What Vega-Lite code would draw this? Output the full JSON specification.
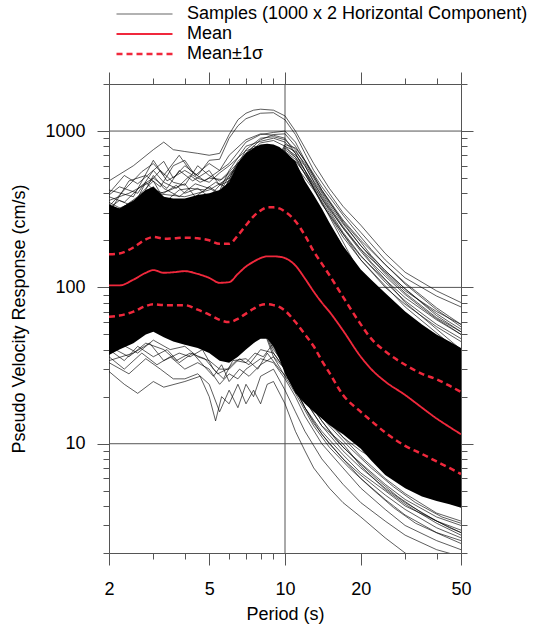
{
  "$schema": "https://vega.github.io/schema/vega-lite/v6.json",
  "width": 352,
  "height": 469,
  "autosize": "none",
  "padding": {"left": 109, "top": 84, "right": 83, "bottom": 76},
  "config": {
    "font": "Liberation Sans",
    "view": {"stroke": null},
    "axis": {"labelFont": "Liberation Sans", "titleFont": "Liberation Sans", "labelFontSize": 18, "titleFontSize": 18, "titleFontWeight": "normal", "labelColor": "#000", "titleColor": "#000", "domainColor": "#555", "tickColor": "#555", "grid": false, "labelFlush": false, "labelOverlap": false, "labelBound": false},
    "legend": {"orient": "none", "legendX": 6, "legendY": -80, "symbolType": "stroke", "symbolSize": 3136, "clipHeight": 20, "labelFontSize": 18, "labelFont": "Liberation Sans", "labelColor": "#000", "labelOffset": 13, "rowPadding": 0, "padding": 0, "title": null, "labelLimit": 500}
  },
  "datasets": {
    "gridy": [{"g": 10}, {"g": 100}, {"g": 1000}],
    "gridx": [{"g": 10}],
    "band": [
      {"p": 2, "lo": 37, "hi": 340}, {"p": 2.2, "lo": 40, "hi": 320}, {"p": 2.5, "lo": 44, "hi": 360}, {"p": 2.8, "lo": 50, "hi": 420}, {"p": 3, "lo": 52, "hi": 440}, {"p": 3.3, "lo": 48, "hi": 380}, {"p": 3.6, "lo": 45, "hi": 370}, {"p": 4, "lo": 43, "hi": 370}, {"p": 4.5, "lo": 41, "hi": 390}, {"p": 5, "lo": 38, "hi": 400}, {"p": 5.5, "lo": 34, "hi": 420}, {"p": 6, "lo": 33, "hi": 470}, {"p": 6.5, "lo": 36, "hi": 620}, {"p": 7, "lo": 40, "hi": 720}, {"p": 7.5, "lo": 44, "hi": 780}, {"p": 8, "lo": 47, "hi": 820}, {"p": 8.5, "lo": 47, "hi": 830}, {"p": 9, "lo": 42, "hi": 820}, {"p": 9.5, "lo": 35, "hi": 790}, {"p": 10, "lo": 28, "hi": 740}, {"p": 11, "lo": 21, "hi": 640}, {"p": 12, "lo": 18, "hi": 480}, {"p": 13, "lo": 16, "hi": 390}, {"p": 14, "lo": 14.5, "hi": 320}, {"p": 15, "lo": 13.2, "hi": 260}, {"p": 17, "lo": 11.5, "hi": 185}, {"p": 20, "lo": 9.3, "hi": 130}, {"p": 22, "lo": 7.8, "hi": 112}, {"p": 25, "lo": 6.3, "hi": 92}, {"p": 30, "lo": 5.2, "hi": 70}, {"p": 35, "lo": 4.6, "hi": 58}, {"p": 40, "lo": 4.3, "hi": 50}, {"p": 45, "lo": 4.1, "hi": 45}, {"p": 50, "lo": 3.9, "hi": 41}
    ],
    "lines": [
      {"k": "Mean", "s": "m", "p": 2, "v": 103}, {"k": "Mean", "s": "m", "p": 2.2, "v": 103}, {"k": "Mean", "s": "m", "p": 2.5, "v": 112}, {"k": "Mean", "s": "m", "p": 2.8, "v": 124}, {"k": "Mean", "s": "m", "p": 3, "v": 129}, {"k": "Mean", "s": "m", "p": 3.3, "v": 124}, {"k": "Mean", "s": "m", "p": 3.6, "v": 125}, {"k": "Mean", "s": "m", "p": 4, "v": 127}, {"k": "Mean", "s": "m", "p": 4.5, "v": 122}, {"k": "Mean", "s": "m", "p": 5, "v": 115}, {"k": "Mean", "s": "m", "p": 5.5, "v": 107}, {"k": "Mean", "s": "m", "p": 6, "v": 108}, {"k": "Mean", "s": "m", "p": 6.5, "v": 122}, {"k": "Mean", "s": "m", "p": 7, "v": 136}, {"k": "Mean", "s": "m", "p": 7.5, "v": 146}, {"k": "Mean", "s": "m", "p": 8, "v": 154}, {"k": "Mean", "s": "m", "p": 8.5, "v": 158}, {"k": "Mean", "s": "m", "p": 9, "v": 158}, {"k": "Mean", "s": "m", "p": 9.5, "v": 157}, {"k": "Mean", "s": "m", "p": 10, "v": 154}, {"k": "Mean", "s": "m", "p": 11, "v": 138}, {"k": "Mean", "s": "m", "p": 12, "v": 114}, {"k": "Mean", "s": "m", "p": 13, "v": 94}, {"k": "Mean", "s": "m", "p": 14, "v": 80}, {"k": "Mean", "s": "m", "p": 15, "v": 70}, {"k": "Mean", "s": "m", "p": 17, "v": 53}, {"k": "Mean", "s": "m", "p": 20, "v": 36}, {"k": "Mean", "s": "m", "p": 22, "v": 30}, {"k": "Mean", "s": "m", "p": 25, "v": 25}, {"k": "Mean", "s": "m", "p": 30, "v": 20.5}, {"k": "Mean", "s": "m", "p": 35, "v": 17}, {"k": "Mean", "s": "m", "p": 40, "v": 14.5}, {"k": "Mean", "s": "m", "p": 45, "v": 12.8}, {"k": "Mean", "s": "m", "p": 50, "v": 11.5},
      {"k": "Mean±1σ", "s": "u", "p": 2, "v": 163}, {"k": "Mean±1σ", "s": "u", "p": 2.2, "v": 165}, {"k": "Mean±1σ", "s": "u", "p": 2.5, "v": 180}, {"k": "Mean±1σ", "s": "u", "p": 2.8, "v": 203}, {"k": "Mean±1σ", "s": "u", "p": 3, "v": 210}, {"k": "Mean±1σ", "s": "u", "p": 3.3, "v": 205}, {"k": "Mean±1σ", "s": "u", "p": 3.6, "v": 206}, {"k": "Mean±1σ", "s": "u", "p": 4, "v": 208}, {"k": "Mean±1σ", "s": "u", "p": 4.5, "v": 206}, {"k": "Mean±1σ", "s": "u", "p": 5, "v": 200}, {"k": "Mean±1σ", "s": "u", "p": 5.5, "v": 190}, {"k": "Mean±1σ", "s": "u", "p": 6, "v": 190}, {"k": "Mean±1σ", "s": "u", "p": 6.5, "v": 215}, {"k": "Mean±1σ", "s": "u", "p": 7, "v": 250}, {"k": "Mean±1σ", "s": "u", "p": 7.5, "v": 285}, {"k": "Mean±1σ", "s": "u", "p": 8, "v": 310}, {"k": "Mean±1σ", "s": "u", "p": 8.5, "v": 325}, {"k": "Mean±1σ", "s": "u", "p": 9, "v": 325}, {"k": "Mean±1σ", "s": "u", "p": 9.5, "v": 320}, {"k": "Mean±1σ", "s": "u", "p": 10, "v": 305}, {"k": "Mean±1σ", "s": "u", "p": 11, "v": 265}, {"k": "Mean±1σ", "s": "u", "p": 12, "v": 215}, {"k": "Mean±1σ", "s": "u", "p": 13, "v": 170}, {"k": "Mean±1σ", "s": "u", "p": 14, "v": 142}, {"k": "Mean±1σ", "s": "u", "p": 15, "v": 120}, {"k": "Mean±1σ", "s": "u", "p": 17, "v": 87}, {"k": "Mean±1σ", "s": "u", "p": 20, "v": 58}, {"k": "Mean±1σ", "s": "u", "p": 22, "v": 47}, {"k": "Mean±1σ", "s": "u", "p": 25, "v": 39}, {"k": "Mean±1σ", "s": "u", "p": 30, "v": 32}, {"k": "Mean±1σ", "s": "u", "p": 35, "v": 28}, {"k": "Mean±1σ", "s": "u", "p": 40, "v": 25.8}, {"k": "Mean±1σ", "s": "u", "p": 45, "v": 23.5}, {"k": "Mean±1σ", "s": "u", "p": 50, "v": 21.4},
      {"k": "Mean±1σ", "s": "l", "p": 2, "v": 65}, {"k": "Mean±1σ", "s": "l", "p": 2.2, "v": 66}, {"k": "Mean±1σ", "s": "l", "p": 2.5, "v": 70}, {"k": "Mean±1σ", "s": "l", "p": 2.8, "v": 76}, {"k": "Mean±1σ", "s": "l", "p": 3, "v": 78}, {"k": "Mean±1σ", "s": "l", "p": 3.3, "v": 77}, {"k": "Mean±1σ", "s": "l", "p": 3.6, "v": 77}, {"k": "Mean±1σ", "s": "l", "p": 4, "v": 77}, {"k": "Mean±1σ", "s": "l", "p": 4.5, "v": 72}, {"k": "Mean±1σ", "s": "l", "p": 5, "v": 67}, {"k": "Mean±1σ", "s": "l", "p": 5.5, "v": 62}, {"k": "Mean±1σ", "s": "l", "p": 6, "v": 60}, {"k": "Mean±1σ", "s": "l", "p": 6.5, "v": 63}, {"k": "Mean±1σ", "s": "l", "p": 7, "v": 68}, {"k": "Mean±1σ", "s": "l", "p": 7.5, "v": 73}, {"k": "Mean±1σ", "s": "l", "p": 8, "v": 77}, {"k": "Mean±1σ", "s": "l", "p": 8.5, "v": 78}, {"k": "Mean±1σ", "s": "l", "p": 9, "v": 77}, {"k": "Mean±1σ", "s": "l", "p": 9.5, "v": 75}, {"k": "Mean±1σ", "s": "l", "p": 10, "v": 71}, {"k": "Mean±1σ", "s": "l", "p": 11, "v": 60}, {"k": "Mean±1σ", "s": "l", "p": 12, "v": 50}, {"k": "Mean±1σ", "s": "l", "p": 13, "v": 42}, {"k": "Mean±1σ", "s": "l", "p": 14, "v": 34}, {"k": "Mean±1σ", "s": "l", "p": 15, "v": 28.5}, {"k": "Mean±1σ", "s": "l", "p": 17, "v": 20.5}, {"k": "Mean±1σ", "s": "l", "p": 20, "v": 16}, {"k": "Mean±1σ", "s": "l", "p": 22, "v": 14}, {"k": "Mean±1σ", "s": "l", "p": 25, "v": 11.8}, {"k": "Mean±1σ", "s": "l", "p": 30, "v": 9.7}, {"k": "Mean±1σ", "s": "l", "p": 35, "v": 8.6}, {"k": "Mean±1σ", "s": "l", "p": 40, "v": 7.7}, {"k": "Mean±1σ", "s": "l", "p": 45, "v": 7.0}, {"k": "Mean±1σ", "s": "l", "p": 50, "v": 6.4}
    ],
    "samples": [
      {"s": "T1", "p": 2, "v": 480}, {"s": "T1", "p": 2.5, "v": 600}, {"s": "T1", "p": 3, "v": 760}, {"s": "T1", "p": 3.3, "v": 850}, {"s": "T1", "p": 3.6, "v": 760}, {"s": "T1", "p": 4, "v": 740}, {"s": "T1", "p": 4.5, "v": 720}, {"s": "T1", "p": 5, "v": 700}, {"s": "T1", "p": 5.5, "v": 720}, {"s": "T1", "p": 6, "v": 950}, {"s": "T1", "p": 6.5, "v": 1180}, {"s": "T1", "p": 7, "v": 1300}, {"s": "T1", "p": 7.5, "v": 1360}, {"s": "T1", "p": 8, "v": 1380}, {"s": "T1", "p": 9, "v": 1360}, {"s": "T1", "p": 10, "v": 1250}, {"s": "T1", "p": 11, "v": 1000}, {"s": "T1", "p": 12, "v": 780}, {"s": "T1", "p": 13, "v": 620}, {"s": "T1", "p": 15, "v": 430}, {"s": "T1", "p": 17, "v": 330}, {"s": "T1", "p": 20, "v": 250}, {"s": "T1", "p": 25, "v": 165}, {"s": "T1", "p": 30, "v": 125}, {"s": "T1", "p": 40, "v": 95}, {"s": "T1", "p": 50, "v": 80},
      {"s": "T2", "p": 2, "v": 400}, {"s": "T2", "p": 2.3, "v": 520}, {"s": "T2", "p": 2.6, "v": 460}, {"s": "T2", "p": 3, "v": 560}, {"s": "T2", "p": 3.3, "v": 640}, {"s": "T2", "p": 3.6, "v": 500}, {"s": "T2", "p": 4, "v": 600}, {"s": "T2", "p": 4.5, "v": 520}, {"s": "T2", "p": 5, "v": 650}, {"s": "T2", "p": 5.5, "v": 660}, {"s": "T2", "p": 6, "v": 900}, {"s": "T2", "p": 6.5, "v": 1080}, {"s": "T2", "p": 7, "v": 1200}, {"s": "T2", "p": 8, "v": 1300}, {"s": "T2", "p": 9, "v": 1310}, {"s": "T2", "p": 10, "v": 1180}, {"s": "T2", "p": 11, "v": 950}, {"s": "T2", "p": 12, "v": 720}, {"s": "T2", "p": 13, "v": 560}, {"s": "T2", "p": 15, "v": 400}, {"s": "T2", "p": 17, "v": 300}, {"s": "T2", "p": 20, "v": 225}, {"s": "T2", "p": 25, "v": 150}, {"s": "T2", "p": 30, "v": 115}, {"s": "T2", "p": 40, "v": 88}, {"s": "T2", "p": 50, "v": 75},
      {"s": "T3", "p": 2, "v": 330}, {"s": "T3", "p": 2.3, "v": 420}, {"s": "T3", "p": 2.7, "v": 550}, {"s": "T3", "p": 3, "v": 620}, {"s": "T3", "p": 3.3, "v": 520}, {"s": "T3", "p": 3.8, "v": 700}, {"s": "T3", "p": 4.2, "v": 560}, {"s": "T3", "p": 4.8, "v": 480}, {"s": "T3", "p": 5.5, "v": 560}, {"s": "T3", "p": 6, "v": 620}, {"s": "T3", "p": 7, "v": 850}, {"s": "T3", "p": 8, "v": 950}, {"s": "T3", "p": 9, "v": 980}, {"s": "T3", "p": 10, "v": 1000}, {"s": "T3", "p": 11, "v": 850}, {"s": "T3", "p": 12, "v": 650}, {"s": "T3", "p": 14, "v": 420}, {"s": "T3", "p": 17, "v": 270}, {"s": "T3", "p": 20, "v": 200}, {"s": "T3", "p": 25, "v": 140}, {"s": "T3", "p": 30, "v": 105}, {"s": "T3", "p": 40, "v": 72}, {"s": "T3", "p": 50, "v": 56},
      {"s": "T4", "p": 2, "v": 300}, {"s": "T4", "p": 2.4, "v": 480}, {"s": "T4", "p": 2.8, "v": 520}, {"s": "T4", "p": 3.2, "v": 440}, {"s": "T4", "p": 3.6, "v": 600}, {"s": "T4", "p": 4, "v": 650}, {"s": "T4", "p": 4.4, "v": 520}, {"s": "T4", "p": 5, "v": 620}, {"s": "T4", "p": 5.5, "v": 560}, {"s": "T4", "p": 6, "v": 700}, {"s": "T4", "p": 7, "v": 880}, {"s": "T4", "p": 8, "v": 960}, {"s": "T4", "p": 9, "v": 940}, {"s": "T4", "p": 10, "v": 900}, {"s": "T4", "p": 11, "v": 720}, {"s": "T4", "p": 12, "v": 560}, {"s": "T4", "p": 14, "v": 370}, {"s": "T4", "p": 17, "v": 240}, {"s": "T4", "p": 20, "v": 175}, {"s": "T4", "p": 25, "v": 125}, {"s": "T4", "p": 30, "v": 95}, {"s": "T4", "p": 40, "v": 70}, {"s": "T4", "p": 50, "v": 58},
      {"s": "T5", "p": 2, "v": 420}, {"s": "T5", "p": 2.5, "v": 380}, {"s": "T5", "p": 3, "v": 650}, {"s": "T5", "p": 3.4, "v": 480}, {"s": "T5", "p": 4, "v": 560}, {"s": "T5", "p": 4.5, "v": 500}, {"s": "T5", "p": 5, "v": 470}, {"s": "T5", "p": 5.5, "v": 540}, {"s": "T5", "p": 6, "v": 600}, {"s": "T5", "p": 7, "v": 750}, {"s": "T5", "p": 8, "v": 800}, {"s": "T5", "p": 9, "v": 700}, {"s": "T5", "p": 10, "v": 600}, {"s": "T5", "p": 12, "v": 400}, {"s": "T5", "p": 15, "v": 250}, {"s": "T5", "p": 20, "v": 120}, {"s": "T5", "p": 30, "v": 60}, {"s": "T5", "p": 50, "v": 30},
      {"s": "T6", "p": 2, "v": 380}, {"s": "T6", "p": 2.3, "v": 350}, {"s": "T6", "p": 2.7, "v": 450}, {"s": "T6", "p": 3, "v": 500}, {"s": "T6", "p": 3.4, "v": 430}, {"s": "T6", "p": 3.8, "v": 560}, {"s": "T6", "p": 4.3, "v": 480}, {"s": "T6", "p": 5, "v": 560}, {"s": "T6", "p": 5.5, "v": 450}, {"s": "T6", "p": 6, "v": 520}, {"s": "T6", "p": 7, "v": 700}, {"s": "T6", "p": 8, "v": 760}, {"s": "T6", "p": 10, "v": 650}, {"s": "T6", "p": 12, "v": 420}, {"s": "T6", "p": 15, "v": 220}, {"s": "T6", "p": 20, "v": 110}, {"s": "T6", "p": 30, "v": 50}, {"s": "T6", "p": 50, "v": 25},
      {"s": "T7", "p": 2, "v": 360}, {"s": "T7", "p": 2.4, "v": 400}, {"s": "T7", "p": 2.9, "v": 470}, {"s": "T7", "p": 3.2, "v": 560}, {"s": "T7", "p": 3.6, "v": 470}, {"s": "T7", "p": 4, "v": 450}, {"s": "T7", "p": 4.5, "v": 600}, {"s": "T7", "p": 5, "v": 520}, {"s": "T7", "p": 5.5, "v": 480}, {"s": "T7", "p": 6, "v": 550}, {"s": "T7", "p": 7, "v": 700}, {"s": "T7", "p": 8, "v": 780}, {"s": "T7", "p": 10, "v": 700}, {"s": "T7", "p": 12, "v": 450}, {"s": "T7", "p": 15, "v": 240}, {"s": "T7", "p": 20, "v": 120}, {"s": "T7", "p": 30, "v": 55}, {"s": "T7", "p": 50, "v": 28},
      {"s": "T8", "p": 2, "v": 390}, {"s": "T8", "p": 2.2, "v": 440}, {"s": "T8", "p": 2.6, "v": 400}, {"s": "T8", "p": 3, "v": 560}, {"s": "T8", "p": 3.3, "v": 470}, {"s": "T8", "p": 3.7, "v": 430}, {"s": "T8", "p": 4.2, "v": 520}, {"s": "T8", "p": 4.6, "v": 470}, {"s": "T8", "p": 5, "v": 500}, {"s": "T8", "p": 5.6, "v": 490}, {"s": "T8", "p": 6.2, "v": 560}, {"s": "T8", "p": 7, "v": 720}, {"s": "T8", "p": 8, "v": 790}, {"s": "T8", "p": 10, "v": 680}, {"s": "T8", "p": 12, "v": 440}, {"s": "T8", "p": 15, "v": 230}, {"s": "T8", "p": 20, "v": 115}, {"s": "T8", "p": 30, "v": 52}, {"s": "T8", "p": 50, "v": 26},
      {"s": "T9", "p": 2, "v": 300}, {"s": "T9", "p": 3, "v": 400}, {"s": "T9", "p": 4, "v": 380}, {"s": "T9", "p": 5, "v": 420}, {"s": "T9", "p": 6, "v": 500}, {"s": "T9", "p": 7, "v": 720}, {"s": "T9", "p": 8, "v": 880}, {"s": "T9", "p": 9, "v": 950}, {"s": "T9", "p": 10, "v": 960}, {"s": "T9", "p": 11, "v": 800}, {"s": "T9", "p": 12, "v": 640}, {"s": "T9", "p": 14, "v": 420}, {"s": "T9", "p": 17, "v": 260}, {"s": "T9", "p": 20, "v": 185}, {"s": "T9", "p": 25, "v": 128}, {"s": "T9", "p": 30, "v": 98}, {"s": "T9", "p": 40, "v": 66}, {"s": "T9", "p": 50, "v": 52},
      {"s": "T10", "p": 2, "v": 320}, {"s": "T10", "p": 2.2, "v": 360}, {"s": "T10", "p": 2.5, "v": 330}, {"s": "T10", "p": 2.8, "v": 470}, {"s": "T10", "p": 3, "v": 420}, {"s": "T10", "p": 3.3, "v": 400}, {"s": "T10", "p": 3.7, "v": 450}, {"s": "T10", "p": 4, "v": 400}, {"s": "T10", "p": 4.5, "v": 430}, {"s": "T10", "p": 5, "v": 380}, {"s": "T10", "p": 5.5, "v": 450}, {"s": "T10", "p": 6, "v": 480}, {"s": "T10", "p": 7, "v": 600}, {"s": "T10", "p": 8, "v": 700}, {"s": "T10", "p": 10, "v": 600}, {"s": "T10", "p": 12, "v": 300}, {"s": "T10", "p": 20, "v": 80}, {"s": "T10", "p": 50, "v": 20},
      {"s": "T11", "p": 2, "v": 280}, {"s": "T11", "p": 2.3, "v": 330}, {"s": "T11", "p": 2.6, "v": 380}, {"s": "T11", "p": 3, "v": 480}, {"s": "T11", "p": 3.2, "v": 400}, {"s": "T11", "p": 3.5, "v": 420}, {"s": "T11", "p": 4, "v": 460}, {"s": "T11", "p": 4.4, "v": 380}, {"s": "T11", "p": 5, "v": 440}, {"s": "T11", "p": 5.5, "v": 400}, {"s": "T11", "p": 6, "v": 520}, {"s": "T11", "p": 7, "v": 650}, {"s": "T11", "p": 8, "v": 740}, {"s": "T11", "p": 10, "v": 620}, {"s": "T11", "p": 12, "v": 300}, {"s": "T11", "p": 20, "v": 80}, {"s": "T11", "p": 50, "v": 20},
      {"s": "T12", "p": 2, "v": 350}, {"s": "T12", "p": 2.4, "v": 300}, {"s": "T12", "p": 2.7, "v": 400}, {"s": "T12", "p": 3, "v": 440}, {"s": "T12", "p": 3.4, "v": 360}, {"s": "T12", "p": 3.8, "v": 420}, {"s": "T12", "p": 4.2, "v": 430}, {"s": "T12", "p": 4.8, "v": 420}, {"s": "T12", "p": 5.3, "v": 470}, {"s": "T12", "p": 5.8, "v": 440}, {"s": "T12", "p": 6.5, "v": 640}, {"s": "T12", "p": 7.5, "v": 800}, {"s": "T12", "p": 9, "v": 780}, {"s": "T12", "p": 10, "v": 700}, {"s": "T12", "p": 12, "v": 400}, {"s": "T12", "p": 20, "v": 100}, {"s": "T12", "p": 50, "v": 25},
      {"s": "T13", "p": 2, "v": 260}, {"s": "T13", "p": 2.5, "v": 300}, {"s": "T13", "p": 3, "v": 520}, {"s": "T13", "p": 3.3, "v": 430}, {"s": "T13", "p": 3.8, "v": 380}, {"s": "T13", "p": 4.4, "v": 460}, {"s": "T13", "p": 5, "v": 430}, {"s": "T13", "p": 5.6, "v": 390}, {"s": "T13", "p": 6.2, "v": 520}, {"s": "T13", "p": 7, "v": 700}, {"s": "T13", "p": 8, "v": 840}, {"s": "T13", "p": 9, "v": 870}, {"s": "T13", "p": 10, "v": 800}, {"s": "T13", "p": 11, "v": 680}, {"s": "T13", "p": 12, "v": 530}, {"s": "T13", "p": 14, "v": 350}, {"s": "T13", "p": 20, "v": 120}, {"s": "T13", "p": 50, "v": 30},
      {"s": "T14", "p": 2, "v": 200}, {"s": "T14", "p": 5, "v": 300}, {"s": "T14", "p": 6, "v": 480}, {"s": "T14", "p": 7, "v": 760}, {"s": "T14", "p": 8, "v": 900}, {"s": "T14", "p": 9, "v": 920}, {"s": "T14", "p": 10, "v": 880}, {"s": "T14", "p": 11, "v": 760}, {"s": "T14", "p": 12, "v": 600}, {"s": "T14", "p": 14, "v": 380}, {"s": "T14", "p": 17, "v": 240}, {"s": "T14", "p": 20, "v": 170}, {"s": "T14", "p": 30, "v": 80}, {"s": "T14", "p": 50, "v": 40},
      {"s": "T15", "p": 2, "v": 200}, {"s": "T15", "p": 5, "v": 300}, {"s": "T15", "p": 6, "v": 560}, {"s": "T15", "p": 7, "v": 800}, {"s": "T15", "p": 8, "v": 860}, {"s": "T15", "p": 9, "v": 900}, {"s": "T15", "p": 10, "v": 850}, {"s": "T15", "p": 11, "v": 720}, {"s": "T15", "p": 12, "v": 560}, {"s": "T15", "p": 14, "v": 340}, {"s": "T15", "p": 17, "v": 220}, {"s": "T15", "p": 20, "v": 150}, {"s": "T15", "p": 30, "v": 75}, {"s": "T15", "p": 50, "v": 38},
      {"s": "U1", "p": 2, "v": 200}, {"s": "U1", "p": 5, "v": 200}, {"s": "U1", "p": 8, "v": 500}, {"s": "U1", "p": 9, "v": 600}, {"s": "U1", "p": 10, "v": 760}, {"s": "U1", "p": 11, "v": 680}, {"s": "U1", "p": 12, "v": 560}, {"s": "U1", "p": 13, "v": 460}, {"s": "U1", "p": 14, "v": 390}, {"s": "U1", "p": 15, "v": 330}, {"s": "U1", "p": 17, "v": 245}, {"s": "U1", "p": 20, "v": 175}, {"s": "U1", "p": 22, "v": 145}, {"s": "U1", "p": 25, "v": 118}, {"s": "U1", "p": 30, "v": 90}, {"s": "U1", "p": 35, "v": 74}, {"s": "U1", "p": 40, "v": 63}, {"s": "U1", "p": 45, "v": 56}, {"s": "U1", "p": 50, "v": 50},
      {"s": "U2", "p": 2, "v": 200}, {"s": "U2", "p": 5, "v": 200}, {"s": "U2", "p": 8, "v": 500}, {"s": "U2", "p": 9, "v": 600}, {"s": "U2", "p": 10, "v": 700}, {"s": "U2", "p": 11, "v": 640}, {"s": "U2", "p": 12, "v": 540}, {"s": "U2", "p": 13, "v": 440}, {"s": "U2", "p": 14, "v": 370}, {"s": "U2", "p": 15, "v": 310}, {"s": "U2", "p": 17, "v": 225}, {"s": "U2", "p": 20, "v": 160}, {"s": "U2", "p": 22, "v": 135}, {"s": "U2", "p": 25, "v": 108}, {"s": "U2", "p": 30, "v": 82}, {"s": "U2", "p": 35, "v": 68}, {"s": "U2", "p": 40, "v": 58}, {"s": "U2", "p": 45, "v": 52}, {"s": "U2", "p": 50, "v": 47},
      {"s": "U3", "p": 2, "v": 200}, {"s": "U3", "p": 5, "v": 200}, {"s": "U3", "p": 8, "v": 500}, {"s": "U3", "p": 9, "v": 600}, {"s": "U3", "p": 10, "v": 800}, {"s": "U3", "p": 11, "v": 740}, {"s": "U3", "p": 12, "v": 620}, {"s": "U3", "p": 13, "v": 500}, {"s": "U3", "p": 14, "v": 410}, {"s": "U3", "p": 15, "v": 350}, {"s": "U3", "p": 17, "v": 265}, {"s": "U3", "p": 20, "v": 195}, {"s": "U3", "p": 22, "v": 160}, {"s": "U3", "p": 25, "v": 128}, {"s": "U3", "p": 30, "v": 98}, {"s": "U3", "p": 35, "v": 80}, {"s": "U3", "p": 40, "v": 68}, {"s": "U3", "p": 45, "v": 60}, {"s": "U3", "p": 50, "v": 54},
      {"s": "U4", "p": 2, "v": 200}, {"s": "U4", "p": 5, "v": 200}, {"s": "U4", "p": 8, "v": 500}, {"s": "U4", "p": 9, "v": 600}, {"s": "U4", "p": 10, "v": 820}, {"s": "U4", "p": 11, "v": 780}, {"s": "U4", "p": 12, "v": 650}, {"s": "U4", "p": 14, "v": 440}, {"s": "U4", "p": 15, "v": 380}, {"s": "U4", "p": 17, "v": 290}, {"s": "U4", "p": 20, "v": 210}, {"s": "U4", "p": 22, "v": 175}, {"s": "U4", "p": 25, "v": 140}, {"s": "U4", "p": 30, "v": 107}, {"s": "U4", "p": 35, "v": 88}, {"s": "U4", "p": 40, "v": 74}, {"s": "U4", "p": 45, "v": 65}, {"s": "U4", "p": 50, "v": 58},
      {"s": "U5", "p": 2, "v": 200}, {"s": "U5", "p": 5, "v": 200}, {"s": "U5", "p": 8, "v": 500}, {"s": "U5", "p": 9, "v": 600}, {"s": "U5", "p": 10, "v": 720}, {"s": "U5", "p": 11, "v": 600}, {"s": "U5", "p": 12, "v": 500}, {"s": "U5", "p": 13, "v": 420}, {"s": "U5", "p": 15, "v": 290}, {"s": "U5", "p": 17, "v": 210}, {"s": "U5", "p": 20, "v": 150}, {"s": "U5", "p": 25, "v": 100}, {"s": "U5", "p": 30, "v": 78}, {"s": "U5", "p": 40, "v": 56}, {"s": "U5", "p": 50, "v": 45},
      {"s": "U6", "p": 2, "v": 200}, {"s": "U6", "p": 5, "v": 200}, {"s": "U6", "p": 8, "v": 500}, {"s": "U6", "p": 9, "v": 600}, {"s": "U6", "p": 10, "v": 740}, {"s": "U6", "p": 11, "v": 660}, {"s": "U6", "p": 12, "v": 530}, {"s": "U6", "p": 13, "v": 430}, {"s": "U6", "p": 15, "v": 300}, {"s": "U6", "p": 17, "v": 220}, {"s": "U6", "p": 20, "v": 158}, {"s": "U6", "p": 25, "v": 112}, {"s": "U6", "p": 30, "v": 86}, {"s": "U6", "p": 40, "v": 62}, {"s": "U6", "p": 50, "v": 50},
      {"s": "U7", "p": 2, "v": 200}, {"s": "U7", "p": 5, "v": 200}, {"s": "U7", "p": 8, "v": 500}, {"s": "U7", "p": 9, "v": 600}, {"s": "U7", "p": 10, "v": 780}, {"s": "U7", "p": 11, "v": 700}, {"s": "U7", "p": 12, "v": 600}, {"s": "U7", "p": 13, "v": 480}, {"s": "U7", "p": 15, "v": 340}, {"s": "U7", "p": 17, "v": 255}, {"s": "U7", "p": 20, "v": 185}, {"s": "U7", "p": 25, "v": 122}, {"s": "U7", "p": 30, "v": 92}, {"s": "U7", "p": 40, "v": 64}, {"s": "U7", "p": 50, "v": 52},
      {"s": "B1", "p": 2, "v": 29}, {"s": "B1", "p": 2.3, "v": 24}, {"s": "B1", "p": 2.6, "v": 21}, {"s": "B1", "p": 3, "v": 25}, {"s": "B1", "p": 3.3, "v": 23}, {"s": "B1", "p": 4, "v": 25}, {"s": "B1", "p": 4.6, "v": 27}, {"s": "B1", "p": 5, "v": 20}, {"s": "B1", "p": 5.3, "v": 14}, {"s": "B1", "p": 5.6, "v": 20}, {"s": "B1", "p": 6, "v": 18}, {"s": "B1", "p": 6.5, "v": 24}, {"s": "B1", "p": 7, "v": 18}, {"s": "B1", "p": 7.5, "v": 22}, {"s": "B1", "p": 8, "v": 18}, {"s": "B1", "p": 8.5, "v": 24}, {"s": "B1", "p": 9, "v": 25}, {"s": "B1", "p": 10, "v": 18}, {"s": "B1", "p": 11, "v": 12}, {"s": "B1", "p": 12, "v": 9}, {"s": "B1", "p": 13, "v": 7}, {"s": "B1", "p": 15, "v": 5.2}, {"s": "B1", "p": 17, "v": 4.2}, {"s": "B1", "p": 20, "v": 3.4}, {"s": "B1", "p": 25, "v": 2.5}, {"s": "B1", "p": 30, "v": 2.0}, {"s": "B1", "p": 35, "v": 1.7},
      {"s": "B2", "p": 2, "v": 33}, {"s": "B2", "p": 2.4, "v": 28}, {"s": "B2", "p": 2.8, "v": 35}, {"s": "B2", "p": 3.2, "v": 30}, {"s": "B2", "p": 3.6, "v": 26}, {"s": "B2", "p": 4, "v": 26}, {"s": "B2", "p": 4.5, "v": 28}, {"s": "B2", "p": 5, "v": 24}, {"s": "B2", "p": 5.5, "v": 16}, {"s": "B2", "p": 6, "v": 22}, {"s": "B2", "p": 6.5, "v": 17}, {"s": "B2", "p": 7, "v": 24}, {"s": "B2", "p": 7.5, "v": 20}, {"s": "B2", "p": 8, "v": 27}, {"s": "B2", "p": 9, "v": 30}, {"s": "B2", "p": 10, "v": 22}, {"s": "B2", "p": 11, "v": 16}, {"s": "B2", "p": 12, "v": 12}, {"s": "B2", "p": 14, "v": 8}, {"s": "B2", "p": 17, "v": 5.5}, {"s": "B2", "p": 20, "v": 4.2}, {"s": "B2", "p": 25, "v": 3.2}, {"s": "B2", "p": 30, "v": 2.6}, {"s": "B2", "p": 40, "v": 2.1}, {"s": "B2", "p": 50, "v": 1.9},
      {"s": "B3", "p": 2, "v": 36}, {"s": "B3", "p": 2.3, "v": 30}, {"s": "B3", "p": 2.7, "v": 38}, {"s": "B3", "p": 3.1, "v": 32}, {"s": "B3", "p": 3.5, "v": 36}, {"s": "B3", "p": 4, "v": 30}, {"s": "B3", "p": 4.5, "v": 33}, {"s": "B3", "p": 5, "v": 30}, {"s": "B3", "p": 5.5, "v": 24}, {"s": "B3", "p": 6, "v": 28}, {"s": "B3", "p": 6.5, "v": 26}, {"s": "B3", "p": 7, "v": 30}, {"s": "B3", "p": 8, "v": 35}, {"s": "B3", "p": 9, "v": 33}, {"s": "B3", "p": 10, "v": 26}, {"s": "B3", "p": 11, "v": 20}, {"s": "B3", "p": 12, "v": 15}, {"s": "B3", "p": 14, "v": 10}, {"s": "B3", "p": 17, "v": 7}, {"s": "B3", "p": 20, "v": 5.2}, {"s": "B3", "p": 25, "v": 3.8}, {"s": "B3", "p": 30, "v": 3.0}, {"s": "B3", "p": 40, "v": 2.4}, {"s": "B3", "p": 50, "v": 2.1},
      {"s": "B4", "p": 2, "v": 40}, {"s": "B4", "p": 2.3, "v": 34}, {"s": "B4", "p": 2.6, "v": 42}, {"s": "B4", "p": 3, "v": 36}, {"s": "B4", "p": 3.4, "v": 40}, {"s": "B4", "p": 3.8, "v": 33}, {"s": "B4", "p": 4.3, "v": 38}, {"s": "B4", "p": 4.8, "v": 31}, {"s": "B4", "p": 5.2, "v": 27}, {"s": "B4", "p": 5.6, "v": 32}, {"s": "B4", "p": 6, "v": 25}, {"s": "B4", "p": 6.6, "v": 30}, {"s": "B4", "p": 7.2, "v": 27}, {"s": "B4", "p": 8, "v": 32}, {"s": "B4", "p": 9, "v": 36}, {"s": "B4", "p": 10, "v": 30}, {"s": "B4", "p": 11, "v": 23}, {"s": "B4", "p": 12, "v": 17}, {"s": "B4", "p": 14, "v": 11.5}, {"s": "B4", "p": 17, "v": 8}, {"s": "B4", "p": 20, "v": 6}, {"s": "B4", "p": 25, "v": 4.4}, {"s": "B4", "p": 30, "v": 3.5}, {"s": "B4", "p": 40, "v": 2.7}, {"s": "B4", "p": 50, "v": 2.4},
      {"s": "B5", "p": 2, "v": 34}, {"s": "B5", "p": 2.5, "v": 38}, {"s": "B5", "p": 2.9, "v": 44}, {"s": "B5", "p": 3.3, "v": 34}, {"s": "B5", "p": 3.8, "v": 38}, {"s": "B5", "p": 4.2, "v": 36}, {"s": "B5", "p": 4.7, "v": 40}, {"s": "B5", "p": 5.2, "v": 30}, {"s": "B5", "p": 5.7, "v": 26}, {"s": "B5", "p": 6.2, "v": 34}, {"s": "B5", "p": 7, "v": 35}, {"s": "B5", "p": 7.8, "v": 30}, {"s": "B5", "p": 8.5, "v": 38}, {"s": "B5", "p": 9.5, "v": 30}, {"s": "B5", "p": 10.5, "v": 25}, {"s": "B5", "p": 12, "v": 19}, {"s": "B5", "p": 14, "v": 13}, {"s": "B5", "p": 17, "v": 9}, {"s": "B5", "p": 20, "v": 7}, {"s": "B5", "p": 25, "v": 5.2}, {"s": "B5", "p": 30, "v": 4.2}, {"s": "B5", "p": 40, "v": 3.2}, {"s": "B5", "p": 50, "v": 2.7},
      {"s": "B6", "p": 2, "v": 42}, {"s": "B6", "p": 2.4, "v": 36}, {"s": "B6", "p": 2.8, "v": 44}, {"s": "B6", "p": 3.3, "v": 40}, {"s": "B6", "p": 3.7, "v": 34}, {"s": "B6", "p": 4.2, "v": 38}, {"s": "B6", "p": 4.8, "v": 35}, {"s": "B6", "p": 5.4, "v": 28}, {"s": "B6", "p": 5.9, "v": 30}, {"s": "B6", "p": 6.4, "v": 34}, {"s": "B6", "p": 7, "v": 33}, {"s": "B6", "p": 7.6, "v": 38}, {"s": "B6", "p": 8.2, "v": 36}, {"s": "B6", "p": 9, "v": 44}, {"s": "B6", "p": 10, "v": 40}, {"s": "B6", "p": 11, "v": 30}, {"s": "B6", "p": 12, "v": 22}, {"s": "B6", "p": 14, "v": 15}, {"s": "B6", "p": 17, "v": 11}, {"s": "B6", "p": 20, "v": 9}, {"s": "B6", "p": 30, "v": 6}, {"s": "B6", "p": 50, "v": 4.5},
      {"s": "B7", "p": 2, "v": 38}, {"s": "B7", "p": 2.2, "v": 44}, {"s": "B7", "p": 2.6, "v": 38}, {"s": "B7", "p": 3, "v": 46}, {"s": "B7", "p": 3.5, "v": 40}, {"s": "B7", "p": 4, "v": 42}, {"s": "B7", "p": 4.5, "v": 36}, {"s": "B7", "p": 5, "v": 34}, {"s": "B7", "p": 5.5, "v": 30}, {"s": "B7", "p": 6, "v": 30}, {"s": "B7", "p": 6.6, "v": 35}, {"s": "B7", "p": 7.2, "v": 32}, {"s": "B7", "p": 8, "v": 40}, {"s": "B7", "p": 9, "v": 38}, {"s": "B7", "p": 10, "v": 30}, {"s": "B7", "p": 11, "v": 22}, {"s": "B7", "p": 12, "v": 17}, {"s": "B7", "p": 14, "v": 12}, {"s": "B7", "p": 17, "v": 8.5}, {"s": "B7", "p": 20, "v": 6.5}, {"s": "B7", "p": 25, "v": 5}, {"s": "B7", "p": 30, "v": 4}, {"s": "B7", "p": 40, "v": 3.2}, {"s": "B7", "p": 50, "v": 2.8},
      {"s": "R1", "p": 2, "v": 100}, {"s": "R1", "p": 5, "v": 100}, {"s": "R1", "p": 8, "v": 60}, {"s": "R1", "p": 9, "v": 40}, {"s": "R1", "p": 10, "v": 32}, {"s": "R1", "p": 11, "v": 25}, {"s": "R1", "p": 12, "v": 20}, {"s": "R1", "p": 14, "v": 14}, {"s": "R1", "p": 17, "v": 9.5}, {"s": "R1", "p": 20, "v": 7.5}, {"s": "R1", "p": 25, "v": 5.5}, {"s": "R1", "p": 30, "v": 4.4}, {"s": "R1", "p": 40, "v": 3.4}, {"s": "R1", "p": 50, "v": 3.0},
      {"s": "R2", "p": 2, "v": 100}, {"s": "R2", "p": 5, "v": 100}, {"s": "R2", "p": 8, "v": 60}, {"s": "R2", "p": 9, "v": 42}, {"s": "R2", "p": 10, "v": 34}, {"s": "R2", "p": 12, "v": 22}, {"s": "R2", "p": 14, "v": 16}, {"s": "R2", "p": 17, "v": 11}, {"s": "R2", "p": 20, "v": 8.3}, {"s": "R2", "p": 25, "v": 6.0}, {"s": "R2", "p": 30, "v": 4.8}, {"s": "R2", "p": 40, "v": 3.6}, {"s": "R2", "p": 50, "v": 3.2},
      {"s": "R3", "p": 2, "v": 100}, {"s": "R3", "p": 5, "v": 100}, {"s": "R3", "p": 8, "v": 60}, {"s": "R3", "p": 9, "v": 38}, {"s": "R3", "p": 10, "v": 30}, {"s": "R3", "p": 12, "v": 19}, {"s": "R3", "p": 14, "v": 13}, {"s": "R3", "p": 17, "v": 10}, {"s": "R3", "p": 20, "v": 7.2}, {"s": "R3", "p": 25, "v": 5.1}, {"s": "R3", "p": 30, "v": 4.1}, {"s": "R3", "p": 40, "v": 3.1}, {"s": "R3", "p": 50, "v": 2.6},
      {"s": "R4", "p": 2, "v": 100}, {"s": "R4", "p": 5, "v": 100}, {"s": "R4", "p": 8, "v": 60}, {"s": "R4", "p": 9, "v": 45}, {"s": "R4", "p": 10, "v": 36}, {"s": "R4", "p": 11, "v": 28}, {"s": "R4", "p": 13, "v": 17}, {"s": "R4", "p": 15, "v": 13}, {"s": "R4", "p": 18, "v": 9.5}, {"s": "R4", "p": 22, "v": 7}, {"s": "R4", "p": 27, "v": 5.3}, {"s": "R4", "p": 33, "v": 4.2}, {"s": "R4", "p": 42, "v": 3.4}, {"s": "R4", "p": 50, "v": 3.1},
      {"s": "R5", "p": 2, "v": 100}, {"s": "R5", "p": 5, "v": 100}, {"s": "R5", "p": 8, "v": 60}, {"s": "R5", "p": 9, "v": 36}, {"s": "R5", "p": 10, "v": 27}, {"s": "R5", "p": 11, "v": 21}, {"s": "R5", "p": 13, "v": 13}, {"s": "R5", "p": 15, "v": 9.5}, {"s": "R5", "p": 18, "v": 7}, {"s": "R5", "p": 22, "v": 5.2}, {"s": "R5", "p": 27, "v": 3.9}, {"s": "R5", "p": 33, "v": 3.1}, {"s": "R5", "p": 42, "v": 2.6}, {"s": "R5", "p": 50, "v": 2.3},
      {"s": "R6", "p": 2, "v": 100}, {"s": "R6", "p": 5, "v": 100}, {"s": "R6", "p": 8, "v": 60}, {"s": "R6", "p": 10, "v": 30}, {"s": "R6", "p": 11, "v": 22}, {"s": "R6", "p": 12, "v": 17}, {"s": "R6", "p": 13, "v": 13.5}, {"s": "R6", "p": 15, "v": 10}, {"s": "R6", "p": 17, "v": 8}, {"s": "R6", "p": 20, "v": 6.3}, {"s": "R6", "p": 25, "v": 4.7}, {"s": "R6", "p": 30, "v": 3.8}, {"s": "R6", "p": 40, "v": 2.9}, {"s": "R6", "p": 50, "v": 2.5},
      {"s": "R7", "p": 2, "v": 100}, {"s": "R7", "p": 5, "v": 100}, {"s": "R7", "p": 8, "v": 60}, {"s": "R7", "p": 10, "v": 33}, {"s": "R7", "p": 12, "v": 20}, {"s": "R7", "p": 14, "v": 14}, {"s": "R7", "p": 16, "v": 10.5}, {"s": "R7", "p": 19, "v": 8}, {"s": "R7", "p": 23, "v": 6}, {"s": "R7", "p": 28, "v": 4.6}, {"s": "R7", "p": 35, "v": 3.6}, {"s": "R7", "p": 45, "v": 2.9}, {"s": "R7", "p": 50, "v": 2.7}
    ]
  },
  "resolve": {"axis": {"x": "independent", "y": "independent"}},
  "layer": [
    {
      "data": {"name": "gridy"},
      "mark": {"type": "rule", "color": "#555", "strokeWidth": 1},
      "encoding": {"y": {"field": "g", "type": "quantitative", "axis": null}}
    },
    {
      "data": {"name": "gridx"},
      "mark": {"type": "rule", "color": "#555", "strokeWidth": 1},
      "encoding": {"x": {"field": "g", "type": "quantitative", "axis": null}}
    },
    {
      "data": {"name": "band"},
      "mark": {"type": "area", "color": "#000", "clip": true},
      "encoding": {
        "x": {"field": "p", "type": "quantitative", "scale": {"type": "log", "domain": [2, 50], "nice": false},
          "axis": {"orient": "bottom", "title": "Period (s)", "values": [2, 3, 4, 5, 6, 7, 8, 9, 10, 20, 30, 40, 50],
            "labelExpr": "indexof([2, 5, 10, 20, 50], datum.value) >= 0 ? '' + datum.value : ''",
            "tickSize": {"condition": {"test": "indexof([2, 5, 10, 20, 50], datum.value) >= 0", "value": 12}, "value": 6},
            "labelPadding": 15, "titlePadding": 7}},
        "y": {"field": "hi", "type": "quantitative", "scale": {"type": "log", "domain": [2, 2000], "nice": false},
          "axis": {"orient": "left", "title": "Pseudo Velocity Response (cm/s)", "values": [2, 3, 4, 5, 6, 7, 8, 9, 10, 20, 30, 40, 50, 60, 70, 80, 90, 100, 200, 300, 400, 500, 600, 700, 800, 900, 1000, 2000],
            "labelExpr": "indexof([10, 100, 1000], datum.value) >= 0 ? '' + datum.value : ''",
            "tickSize": {"condition": {"test": "indexof([10, 100, 1000], datum.value) >= 0", "value": 12}, "value": 6},
            "labelPadding": 12, "titlePadding": 16}},
        "y2": {"field": "lo"}
      }
    },
    {
      "data": {"name": "samples"},
      "mark": {"type": "line", "clip": true, "strokeWidth": 0.8, "color": "#000", "opacity": 0.8},
      "encoding": {
        "x": {"field": "p", "type": "quantitative",
          "axis": {"orient": "top", "title": null, "labels": false, "values": [2, 3, 4, 5, 6, 7, 8, 9, 10, 20, 30, 40, 50],
            "tickSize": {"condition": {"test": "indexof([2, 5, 10, 20, 50], datum.value) >= 0", "value": 12}, "value": 6}}},
        "y": {"field": "v", "type": "quantitative",
          "axis": {"orient": "right", "title": null, "labels": false, "values": [2, 3, 4, 5, 6, 7, 8, 9, 10, 20, 30, 40, 50, 60, 70, 80, 90, 100, 200, 300, 400, 500, 600, 700, 800, 900, 1000, 2000],
            "tickSize": {"condition": {"test": "indexof([10, 100, 1000], datum.value) >= 0", "value": 12}, "value": 6}}},
        "detail": {"field": "s"}
      }
    },
    {
      "data": {"name": "lines"},
      "mark": {"type": "line", "clip": true, "interpolate": "monotone"},
      "encoding": {
        "x": {"field": "p", "type": "quantitative", "axis": null},
        "y": {"field": "v", "type": "quantitative", "axis": null},
        "detail": {"field": "s"},
        "color": {"field": "k", "type": "nominal", "scale": {"domain": ["Samples (1000 x 2 Horizontal Component)", "Mean", "Mean±1σ"], "range": ["#666666", "#f0283c", "#f0283c"]}, "legend": {"title": null}},
        "strokeDash": {"field": "k", "type": "nominal", "scale": {"domain": ["Samples (1000 x 2 Horizontal Component)", "Mean", "Mean±1σ"], "range": [[1, 0], [1, 0], [6, 4]]}, "legend": {"title": null}},
        "strokeWidth": {"field": "k", "type": "nominal", "scale": {"domain": ["Samples (1000 x 2 Horizontal Component)", "Mean", "Mean±1σ"], "range": [1.2, 2.5, 2.5]}, "legend": {"title": null}}
      }
    }
  ]
}
